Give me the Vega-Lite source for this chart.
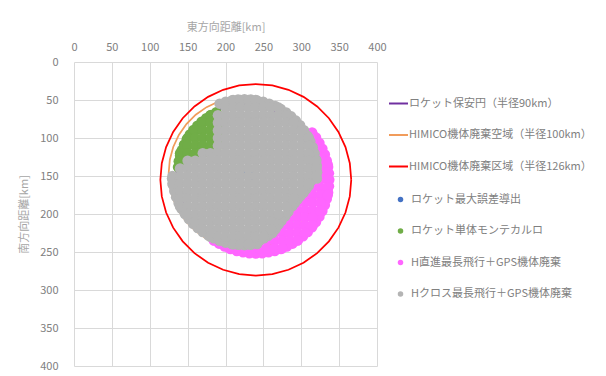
{
"$schema":"https://vega.github.io/schema/vega-lite/v6.json",
"width":303,"height":304,
"autosize":{"type":"none"},
"padding":{"left":74,"top":62,"right":229,"bottom":10},
"background":"white",
"config":{
 "font":"Noto Sans CJK JP",
 "view":{"stroke":null},
 "axis":{"grid":true,"gridColor":"#D9D9D9","gridWidth":1,"domain":false,"ticks":false,"tickSize":0,"labelColor":"#808080","labelFontSize":11,"titleColor":"#A6A6A6","titleFontSize":11,"titleFontWeight":"normal","labelFlush":false,"labelOverlap":false},
 "legend":{"labelFontSize":11,"labelColor":"#808080","labelFont":"Noto Sans CJK JP","padding":0,"labelLimit":300}
},
"datasets":{
"circles":[
{"c":"P","i":0,"x":315,"y":146},{"c":"P","i":1,"x":313.6,"y":161.6},{"c":"P","i":2,"x":309.6,"y":176.8},{"c":"P","i":3,"x":302.9,"y":191},{"c":"P","i":4,"x":293.9,"y":203.9},{"c":"P","i":5,"x":282.9,"y":214.9},{"c":"P","i":6,"x":270,"y":223.9},{"c":"P","i":7,"x":255.8,"y":230.6},{"c":"P","i":8,"x":240.6,"y":234.6},{"c":"P","i":9,"x":225,"y":236},{"c":"P","i":10,"x":209.4,"y":234.6},{"c":"P","i":11,"x":194.2,"y":230.6},{"c":"P","i":12,"x":180,"y":223.9},{"c":"P","i":13,"x":167.1,"y":214.9},{"c":"P","i":14,"x":156.1,"y":203.9},{"c":"P","i":15,"x":147.1,"y":191},{"c":"P","i":16,"x":140.4,"y":176.8},{"c":"P","i":17,"x":136.4,"y":161.6},{"c":"P","i":18,"x":135,"y":146},{"c":"P","i":19,"x":136.4,"y":130.4},{"c":"P","i":20,"x":140.4,"y":115.2},{"c":"P","i":21,"x":147.1,"y":101},{"c":"P","i":22,"x":156.1,"y":88.1},{"c":"P","i":23,"x":167.1,"y":77.1},{"c":"P","i":24,"x":180,"y":68.1},{"c":"P","i":25,"x":194.2,"y":61.4},{"c":"P","i":26,"x":209.4,"y":57.4},{"c":"P","i":27,"x":225,"y":56},{"c":"P","i":28,"x":240.6,"y":57.4},{"c":"P","i":29,"x":255.8,"y":61.4},{"c":"P","i":30,"x":270,"y":68.1},{"c":"P","i":31,"x":282.9,"y":77.1},{"c":"P","i":32,"x":293.9,"y":88.1},{"c":"P","i":33,"x":302.9,"y":101},{"c":"P","i":34,"x":309.6,"y":115.2},{"c":"P","i":35,"x":313.6,"y":130.4},{"c":"P","i":36,"x":315,"y":146},
{"c":"O","i":0,"x":325,"y":146},{"c":"O","i":1,"x":323.5,"y":163.4},{"c":"O","i":2,"x":319,"y":180.2},{"c":"O","i":3,"x":311.6,"y":196},{"c":"O","i":4,"x":301.6,"y":210.3},{"c":"O","i":5,"x":289.3,"y":222.6},{"c":"O","i":6,"x":275,"y":232.6},{"c":"O","i":7,"x":259.2,"y":240},{"c":"O","i":8,"x":242.4,"y":244.5},{"c":"O","i":9,"x":225,"y":246},{"c":"O","i":10,"x":207.6,"y":244.5},{"c":"O","i":11,"x":190.8,"y":240},{"c":"O","i":12,"x":175,"y":232.6},{"c":"O","i":13,"x":160.7,"y":222.6},{"c":"O","i":14,"x":148.4,"y":210.3},{"c":"O","i":15,"x":138.4,"y":196},{"c":"O","i":16,"x":131,"y":180.2},{"c":"O","i":17,"x":126.5,"y":163.4},{"c":"O","i":18,"x":125,"y":146},{"c":"O","i":19,"x":126.5,"y":128.6},{"c":"O","i":20,"x":131,"y":111.8},{"c":"O","i":21,"x":138.4,"y":96},{"c":"O","i":22,"x":148.4,"y":81.7},{"c":"O","i":23,"x":160.7,"y":69.4},{"c":"O","i":24,"x":175,"y":59.4},{"c":"O","i":25,"x":190.8,"y":52},{"c":"O","i":26,"x":207.6,"y":47.5},{"c":"O","i":27,"x":225,"y":46},{"c":"O","i":28,"x":242.4,"y":47.5},{"c":"O","i":29,"x":259.2,"y":52},{"c":"O","i":30,"x":275,"y":59.4},{"c":"O","i":31,"x":289.3,"y":69.4},{"c":"O","i":32,"x":301.6,"y":81.7},{"c":"O","i":33,"x":311.6,"y":96},{"c":"O","i":34,"x":319,"y":111.8},{"c":"O","i":35,"x":323.5,"y":128.6},{"c":"O","i":36,"x":325,"y":146},
{"c":"R","i":0,"x":366,"y":155},{"c":"R","i":1,"x":364.1,"y":176.9},{"c":"R","i":2,"x":358.4,"y":198.1},{"c":"R","i":3,"x":349.1,"y":218},{"c":"R","i":4,"x":336.5,"y":236},{"c":"R","i":5,"x":321,"y":251.5},{"c":"R","i":6,"x":303,"y":264.1},{"c":"R","i":7,"x":283.1,"y":273.4},{"c":"R","i":8,"x":261.9,"y":279.1},{"c":"R","i":9,"x":240,"y":281},{"c":"R","i":10,"x":218.1,"y":279.1},{"c":"R","i":11,"x":196.9,"y":273.4},{"c":"R","i":12,"x":177,"y":264.1},{"c":"R","i":13,"x":159,"y":251.5},{"c":"R","i":14,"x":143.5,"y":236},{"c":"R","i":15,"x":130.9,"y":218},{"c":"R","i":16,"x":121.6,"y":198.1},{"c":"R","i":17,"x":115.9,"y":176.9},{"c":"R","i":18,"x":114,"y":155},{"c":"R","i":19,"x":115.9,"y":133.1},{"c":"R","i":20,"x":121.6,"y":111.9},{"c":"R","i":21,"x":130.9,"y":92},{"c":"R","i":22,"x":143.5,"y":74},{"c":"R","i":23,"x":159,"y":58.5},{"c":"R","i":24,"x":177,"y":45.9},{"c":"R","i":25,"x":196.9,"y":36.6},{"c":"R","i":26,"x":218.1,"y":30.9},{"c":"R","i":27,"x":240,"y":29},{"c":"R","i":28,"x":261.9,"y":30.9},{"c":"R","i":29,"x":283.1,"y":36.6},{"c":"R","i":30,"x":303,"y":45.9},{"c":"R","i":31,"x":321,"y":58.5},{"c":"R","i":32,"x":336.5,"y":74},{"c":"R","i":33,"x":349.1,"y":92},{"c":"R","i":34,"x":358.4,"y":111.9},{"c":"R","i":35,"x":364.1,"y":133.1},{"c":"R","i":36,"x":366,"y":155}
],
"pts":[
{"s":"A","x":225,"y":145},{"s":"A","x":235,"y":150},
{"s":"B","x":137.3,"y":138.3},{"s":"B","x":138.3,"y":130.7},{"s":"B","x":140,"y":123.2},{"s":"B","x":142.3,"y":115.9},{"s":"B","x":145.2,"y":108.8},{"s":"B","x":148.8,"y":102},{"s":"B","x":152.9,"y":95.5},{"s":"B","x":157.6,"y":89.4},{"s":"B","x":162.8,"y":83.8},{"s":"B","x":168.4,"y":78.6},{"s":"B","x":174.5,"y":73.9},{"s":"B","x":181,"y":69.8},{"s":"B","x":187.8,"y":66.2},
{"s":"B","x":180,"y":70},{"s":"B","x":190,"y":70},
{"s":"B","x":170,"y":80},{"s":"B","x":180,"y":80},{"s":"B","x":190,"y":80},
{"s":"B","x":160,"y":90},{"s":"B","x":170,"y":90},{"s":"B","x":180,"y":90},{"s":"B","x":190,"y":90},
{"s":"B","x":150,"y":100},{"s":"B","x":160,"y":100},{"s":"B","x":170,"y":100},{"s":"B","x":180,"y":100},{"s":"B","x":190,"y":100},
{"s":"B","x":150,"y":110},{"s":"B","x":160,"y":110},{"s":"B","x":170,"y":110},{"s":"B","x":180,"y":110},{"s":"B","x":190,"y":110},
{"s":"B","x":140,"y":120},{"s":"B","x":150,"y":120},{"s":"B","x":160,"y":120},{"s":"B","x":170,"y":120},
{"s":"B","x":140,"y":130},{"s":"B","x":150,"y":130},
{"s":"C","x":314.3,"y":92.6},{"s":"C","x":319.5,"y":99.4},{"s":"C","x":324,"y":106.5},{"s":"C","x":327.9,"y":114},{"s":"C","x":331.2,"y":121.8},{"s":"C","x":333.7,"y":129.9},{"s":"C","x":335.5,"y":138.2},{"s":"C","x":336.6,"y":146.5},{"s":"C","x":337,"y":155},{"s":"C","x":336.6,"y":163.5},{"s":"C","x":335.5,"y":171.8},{"s":"C","x":333.7,"y":180.1},{"s":"C","x":331.2,"y":188.2},{"s":"C","x":327.9,"y":196},{"s":"C","x":324,"y":203.5},{"s":"C","x":319.5,"y":210.6},{"s":"C","x":314.3,"y":217.4},{"s":"C","x":308.6,"y":223.6},{"s":"C","x":302.4,"y":229.3},{"s":"C","x":295.6,"y":234.5},{"s":"C","x":288.5,"y":239},{"s":"C","x":281,"y":242.9},{"s":"C","x":273.2,"y":246.2},{"s":"C","x":265.1,"y":248.7},{"s":"C","x":256.8,"y":250.5},{"s":"C","x":248.5,"y":251.6},{"s":"C","x":240,"y":252},{"s":"C","x":231.5,"y":251.6},{"s":"C","x":223.2,"y":250.5},{"s":"C","x":214.9,"y":248.7},{"s":"C","x":206.8,"y":246.2},{"s":"C","x":199,"y":242.9},{"s":"C","x":191.5,"y":239},{"s":"C","x":184.4,"y":234.5},
{"s":"C","x":305,"y":95},{"s":"C","x":315,"y":95},
{"s":"C","x":315,"y":105},
{"s":"C","x":315,"y":115},{"s":"C","x":325,"y":115},
{"s":"C","x":315,"y":125},{"s":"C","x":325,"y":125},
{"s":"C","x":325,"y":135},{"s":"C","x":335,"y":135},
{"s":"C","x":325,"y":145},{"s":"C","x":335,"y":145},
{"s":"C","x":315,"y":155},{"s":"C","x":325,"y":155},{"s":"C","x":335,"y":155},
{"s":"C","x":315,"y":165},{"s":"C","x":325,"y":165},{"s":"C","x":335,"y":165},
{"s":"C","x":305,"y":175},{"s":"C","x":315,"y":175},{"s":"C","x":325,"y":175},{"s":"C","x":335,"y":175},
{"s":"C","x":295,"y":185},{"s":"C","x":305,"y":185},{"s":"C","x":315,"y":185},{"s":"C","x":325,"y":185},
{"s":"C","x":285,"y":195},{"s":"C","x":295,"y":195},{"s":"C","x":305,"y":195},{"s":"C","x":315,"y":195},{"s":"C","x":325,"y":195},
{"s":"C","x":275,"y":205},{"s":"C","x":285,"y":205},{"s":"C","x":295,"y":205},{"s":"C","x":305,"y":205},{"s":"C","x":315,"y":205},
{"s":"C","x":265,"y":215},{"s":"C","x":275,"y":215},{"s":"C","x":285,"y":215},{"s":"C","x":295,"y":215},{"s":"C","x":305,"y":215},{"s":"C","x":315,"y":215},
{"s":"C","x":265,"y":225},{"s":"C","x":275,"y":225},{"s":"C","x":285,"y":225},{"s":"C","x":295,"y":225},{"s":"C","x":305,"y":225},
{"s":"C","x":185,"y":235},{"s":"C","x":195,"y":235},{"s":"C","x":205,"y":235},{"s":"C","x":215,"y":235},{"s":"C","x":225,"y":235},{"s":"C","x":235,"y":235},{"s":"C","x":245,"y":235},{"s":"C","x":255,"y":235},{"s":"C","x":265,"y":235},{"s":"C","x":275,"y":235},{"s":"C","x":285,"y":235},{"s":"C","x":295,"y":235},
{"s":"C","x":205,"y":245},{"s":"C","x":215,"y":245},{"s":"C","x":225,"y":245},{"s":"C","x":235,"y":245},{"s":"C","x":245,"y":245},{"s":"C","x":255,"y":245},{"s":"C","x":265,"y":245},{"s":"C","x":275,"y":245},
{"s":"D","x":192.2,"y":54.8},{"s":"D","x":200.2,"y":52.3},{"s":"D","x":208.3,"y":50.5},{"s":"D","x":216.6,"y":49.4},{"s":"D","x":225,"y":49},{"s":"D","x":233.4,"y":49.4},{"s":"D","x":241.7,"y":50.5},{"s":"D","x":249.8,"y":52.3},{"s":"D","x":257.8,"y":54.8},{"s":"D","x":265.6,"y":58},{"s":"D","x":273,"y":61.9},{"s":"D","x":280.1,"y":66.4},{"s":"D","x":286.7,"y":71.5},{"s":"D","x":292.9,"y":77.1},{"s":"D","x":298.5,"y":83.3},{"s":"D","x":303.6,"y":89.9},{"s":"D","x":308.1,"y":97},{"s":"D","x":312,"y":104.4},{"s":"D","x":315.2,"y":112.2},{"s":"D","x":317.7,"y":120.2},{"s":"D","x":319.5,"y":128.3},{"s":"D","x":320.6,"y":136.6},{"s":"D","x":321,"y":145},{"s":"D","x":320.6,"y":153.4},
{"s":"D","x":316,"y":150},{"s":"D","x":313,"y":156.5},{"s":"D","x":310,"y":163},{"s":"D","x":306.5,"y":167.5},{"s":"D","x":303,"y":172},{"s":"D","x":299,"y":176.5},{"s":"D","x":295,"y":181},{"s":"D","x":291.5,"y":185.5},{"s":"D","x":288,"y":190},{"s":"D","x":283,"y":197},{"s":"D","x":279,"y":203},{"s":"D","x":274,"y":209},{"s":"D","x":267,"y":206},{"s":"D","x":270,"y":214},{"s":"D","x":266,"y":220},{"s":"D","x":262,"y":225},{"s":"D","x":256.5,"y":228.5},{"s":"D","x":251,"y":232},{"s":"D","x":245,"y":235},{"s":"D","x":239,"y":238},
{"s":"D","x":241.7,"y":239.5},{"s":"D","x":233.4,"y":240.6},{"s":"D","x":225,"y":241},{"s":"D","x":216.6,"y":240.6},{"s":"D","x":208.3,"y":239.5},{"s":"D","x":200.2,"y":237.7},{"s":"D","x":192.2,"y":235.2},{"s":"D","x":184.4,"y":232},{"s":"D","x":177,"y":228.1},{"s":"D","x":169.9,"y":223.6},{"s":"D","x":163.3,"y":218.5},{"s":"D","x":157.1,"y":212.9},{"s":"D","x":151.5,"y":206.7},{"s":"D","x":146.4,"y":200.1},{"s":"D","x":141.9,"y":193},{"s":"D","x":138,"y":185.6},{"s":"D","x":134.8,"y":177.8},{"s":"D","x":132.3,"y":169.8},{"s":"D","x":130.5,"y":161.7},{"s":"D","x":129.4,"y":153.4},
{"s":"D","x":210,"y":50},{"s":"D","x":220,"y":50},{"s":"D","x":230,"y":50},{"s":"D","x":240,"y":50},
{"s":"D","x":200,"y":60},{"s":"D","x":210,"y":60},{"s":"D","x":220,"y":60},{"s":"D","x":230,"y":60},{"s":"D","x":240,"y":60},{"s":"D","x":250,"y":60},{"s":"D","x":260,"y":60},{"s":"D","x":270,"y":60},
{"s":"D","x":190,"y":70},{"s":"D","x":200,"y":70},{"s":"D","x":210,"y":70},{"s":"D","x":220,"y":70},{"s":"D","x":230,"y":70},{"s":"D","x":240,"y":70},{"s":"D","x":250,"y":70},{"s":"D","x":260,"y":70},{"s":"D","x":270,"y":70},{"s":"D","x":280,"y":70},
{"s":"D","x":190,"y":80},{"s":"D","x":200,"y":80},{"s":"D","x":210,"y":80},{"s":"D","x":220,"y":80},{"s":"D","x":230,"y":80},{"s":"D","x":240,"y":80},{"s":"D","x":250,"y":80},{"s":"D","x":260,"y":80},{"s":"D","x":270,"y":80},{"s":"D","x":280,"y":80},{"s":"D","x":290,"y":80},
{"s":"D","x":190,"y":90},{"s":"D","x":200,"y":90},{"s":"D","x":210,"y":90},{"s":"D","x":220,"y":90},{"s":"D","x":230,"y":90},{"s":"D","x":240,"y":90},{"s":"D","x":250,"y":90},{"s":"D","x":260,"y":90},{"s":"D","x":270,"y":90},{"s":"D","x":280,"y":90},{"s":"D","x":290,"y":90},{"s":"D","x":300,"y":90},
{"s":"D","x":190,"y":100},{"s":"D","x":200,"y":100},{"s":"D","x":210,"y":100},{"s":"D","x":220,"y":100},{"s":"D","x":230,"y":100},{"s":"D","x":240,"y":100},{"s":"D","x":250,"y":100},{"s":"D","x":260,"y":100},{"s":"D","x":270,"y":100},{"s":"D","x":280,"y":100},{"s":"D","x":290,"y":100},{"s":"D","x":300,"y":100},{"s":"D","x":310,"y":100},
{"s":"D","x":190,"y":110},{"s":"D","x":200,"y":110},{"s":"D","x":210,"y":110},{"s":"D","x":220,"y":110},{"s":"D","x":230,"y":110},{"s":"D","x":240,"y":110},{"s":"D","x":250,"y":110},{"s":"D","x":260,"y":110},{"s":"D","x":270,"y":110},{"s":"D","x":280,"y":110},{"s":"D","x":290,"y":110},{"s":"D","x":300,"y":110},{"s":"D","x":310,"y":110},
{"s":"D","x":170,"y":120},{"s":"D","x":180,"y":120},{"s":"D","x":190,"y":120},{"s":"D","x":200,"y":120},{"s":"D","x":210,"y":120},{"s":"D","x":220,"y":120},{"s":"D","x":230,"y":120},{"s":"D","x":240,"y":120},{"s":"D","x":250,"y":120},{"s":"D","x":260,"y":120},{"s":"D","x":270,"y":120},{"s":"D","x":280,"y":120},{"s":"D","x":290,"y":120},{"s":"D","x":300,"y":120},{"s":"D","x":310,"y":120},
{"s":"D","x":150,"y":130},{"s":"D","x":160,"y":130},{"s":"D","x":170,"y":130},{"s":"D","x":180,"y":130},{"s":"D","x":190,"y":130},{"s":"D","x":200,"y":130},{"s":"D","x":210,"y":130},{"s":"D","x":220,"y":130},{"s":"D","x":230,"y":130},{"s":"D","x":240,"y":130},{"s":"D","x":250,"y":130},{"s":"D","x":260,"y":130},{"s":"D","x":270,"y":130},{"s":"D","x":280,"y":130},{"s":"D","x":290,"y":130},{"s":"D","x":300,"y":130},{"s":"D","x":310,"y":130},{"s":"D","x":320,"y":130},
{"s":"D","x":140,"y":140},{"s":"D","x":150,"y":140},{"s":"D","x":160,"y":140},{"s":"D","x":170,"y":140},{"s":"D","x":180,"y":140},{"s":"D","x":190,"y":140},{"s":"D","x":200,"y":140},{"s":"D","x":210,"y":140},{"s":"D","x":220,"y":140},{"s":"D","x":230,"y":140},{"s":"D","x":240,"y":140},{"s":"D","x":250,"y":140},{"s":"D","x":260,"y":140},{"s":"D","x":270,"y":140},{"s":"D","x":280,"y":140},{"s":"D","x":290,"y":140},{"s":"D","x":300,"y":140},{"s":"D","x":310,"y":140},{"s":"D","x":320,"y":140},
{"s":"D","x":130,"y":150},{"s":"D","x":140,"y":150},{"s":"D","x":150,"y":150},{"s":"D","x":160,"y":150},{"s":"D","x":170,"y":150},{"s":"D","x":180,"y":150},{"s":"D","x":190,"y":150},{"s":"D","x":200,"y":150},{"s":"D","x":210,"y":150},{"s":"D","x":220,"y":150},{"s":"D","x":230,"y":150},{"s":"D","x":240,"y":150},{"s":"D","x":250,"y":150},{"s":"D","x":260,"y":150},{"s":"D","x":270,"y":150},{"s":"D","x":280,"y":150},{"s":"D","x":290,"y":150},{"s":"D","x":300,"y":150},{"s":"D","x":310,"y":150},{"s":"D","x":320,"y":150},
{"s":"D","x":130,"y":160},{"s":"D","x":140,"y":160},{"s":"D","x":150,"y":160},{"s":"D","x":160,"y":160},{"s":"D","x":170,"y":160},{"s":"D","x":180,"y":160},{"s":"D","x":190,"y":160},{"s":"D","x":200,"y":160},{"s":"D","x":210,"y":160},{"s":"D","x":220,"y":160},{"s":"D","x":230,"y":160},{"s":"D","x":240,"y":160},{"s":"D","x":250,"y":160},{"s":"D","x":260,"y":160},{"s":"D","x":270,"y":160},{"s":"D","x":280,"y":160},{"s":"D","x":290,"y":160},{"s":"D","x":300,"y":160},{"s":"D","x":310,"y":160},
{"s":"D","x":140,"y":170},{"s":"D","x":150,"y":170},{"s":"D","x":160,"y":170},{"s":"D","x":170,"y":170},{"s":"D","x":180,"y":170},{"s":"D","x":190,"y":170},{"s":"D","x":200,"y":170},{"s":"D","x":210,"y":170},{"s":"D","x":220,"y":170},{"s":"D","x":230,"y":170},{"s":"D","x":240,"y":170},{"s":"D","x":250,"y":170},{"s":"D","x":260,"y":170},{"s":"D","x":270,"y":170},{"s":"D","x":280,"y":170},{"s":"D","x":290,"y":170},{"s":"D","x":300,"y":170},
{"s":"D","x":140,"y":180},{"s":"D","x":150,"y":180},{"s":"D","x":160,"y":180},{"s":"D","x":170,"y":180},{"s":"D","x":180,"y":180},{"s":"D","x":190,"y":180},{"s":"D","x":200,"y":180},{"s":"D","x":210,"y":180},{"s":"D","x":220,"y":180},{"s":"D","x":230,"y":180},{"s":"D","x":240,"y":180},{"s":"D","x":250,"y":180},{"s":"D","x":260,"y":180},{"s":"D","x":270,"y":180},{"s":"D","x":280,"y":180},{"s":"D","x":290,"y":180},
{"s":"D","x":140,"y":190},{"s":"D","x":150,"y":190},{"s":"D","x":160,"y":190},{"s":"D","x":170,"y":190},{"s":"D","x":180,"y":190},{"s":"D","x":190,"y":190},{"s":"D","x":200,"y":190},{"s":"D","x":210,"y":190},{"s":"D","x":220,"y":190},{"s":"D","x":230,"y":190},{"s":"D","x":240,"y":190},{"s":"D","x":250,"y":190},{"s":"D","x":260,"y":190},{"s":"D","x":270,"y":190},{"s":"D","x":280,"y":190},
{"s":"D","x":150,"y":200},{"s":"D","x":160,"y":200},{"s":"D","x":170,"y":200},{"s":"D","x":180,"y":200},{"s":"D","x":190,"y":200},{"s":"D","x":200,"y":200},{"s":"D","x":210,"y":200},{"s":"D","x":220,"y":200},{"s":"D","x":230,"y":200},{"s":"D","x":240,"y":200},{"s":"D","x":250,"y":200},{"s":"D","x":260,"y":200},{"s":"D","x":270,"y":200},
{"s":"D","x":160,"y":210},{"s":"D","x":170,"y":210},{"s":"D","x":180,"y":210},{"s":"D","x":190,"y":210},{"s":"D","x":200,"y":210},{"s":"D","x":210,"y":210},{"s":"D","x":220,"y":210},{"s":"D","x":230,"y":210},{"s":"D","x":240,"y":210},{"s":"D","x":250,"y":210},{"s":"D","x":260,"y":210},
{"s":"D","x":170,"y":220},{"s":"D","x":180,"y":220},{"s":"D","x":190,"y":220},{"s":"D","x":200,"y":220},{"s":"D","x":210,"y":220},{"s":"D","x":220,"y":220},{"s":"D","x":230,"y":220},{"s":"D","x":240,"y":220},{"s":"D","x":250,"y":220},{"s":"D","x":260,"y":220},
{"s":"D","x":180,"y":230},{"s":"D","x":190,"y":230},{"s":"D","x":200,"y":230},{"s":"D","x":210,"y":230},{"s":"D","x":220,"y":230},{"s":"D","x":230,"y":230},{"s":"D","x":240,"y":230},{"s":"D","x":250,"y":230},
{"s":"D","x":210,"y":240},{"s":"D","x":220,"y":240},{"s":"D","x":230,"y":240}
]
},
"encoding":{
 "x":{"field":"x","type":"quantitative","scale":{"domain":[0,400],"nice":false,"zero":false},"axis":{"orient":"top","values":[0,50,100,150,200,250,300,350,400],"title":"東方向距離[km]","labelPadding":10,"titlePadding":9}},
 "y":{"field":"y","type":"quantitative","scale":{"domain":[0,400],"nice":false,"zero":false,"reverse":true},"axis":{"orient":"left","values":[0,50,100,150,200,250,300,350,400],"title":"南方向距離[km]","labelPadding":16,"titlePadding":10}}
},
"layer":[
 {"data":{"name":"circles"},
  "mark":{"type":"line","strokeWidth":1.75,"clip":true},
  "encoding":{
   "order":{"field":"i","type":"quantitative"},
   "stroke":{"field":"c","type":"nominal","scale":{"domain":["P","O","R"],"range":["#7030A0","#F19C5B","#FF0000"]},
     "legend":{"orient":"none","legendX":314,"legendY":31,"title":null,"symbolType":"stroke","symbolSize":361,"symbolStrokeWidth":2,"labelOffset":0,"rowPadding":15.5,
       "labelExpr":"{'P':'ロケット保安円（半径90km）','O':'HIMICO機体廃棄空域（半径100km）','R':'HIMICO機体廃棄区域（半径126km）'}[datum.value]"}}
  }},
 {"data":{"name":"pts"},
  "mark":{"type":"circle","size":110,"opacity":1,"clip":true},
  "encoding":{
   "fill":{"field":"s","type":"nominal","scale":{"domain":["A","B","C","D"],"range":["#4472C4","#70AD47","#FF66FF","#B4B4B4"]},
     "legend":{"orient":"none","legendX":321,"legendY":132,"title":null,"symbolType":"circle","symbolSize":30,"symbolStrokeWidth":0,"labelOffset":5,"rowPadding":19.5,
       "labelExpr":"{'A':'ロケット最大誤差導出','B':'ロケット単体モンテカルロ','C':'H直進最長飛行＋GPS機体廃棄','D':'Hクロス最長飛行＋GPS機体廃棄'}[datum.value]"}}
  }}
]
}
